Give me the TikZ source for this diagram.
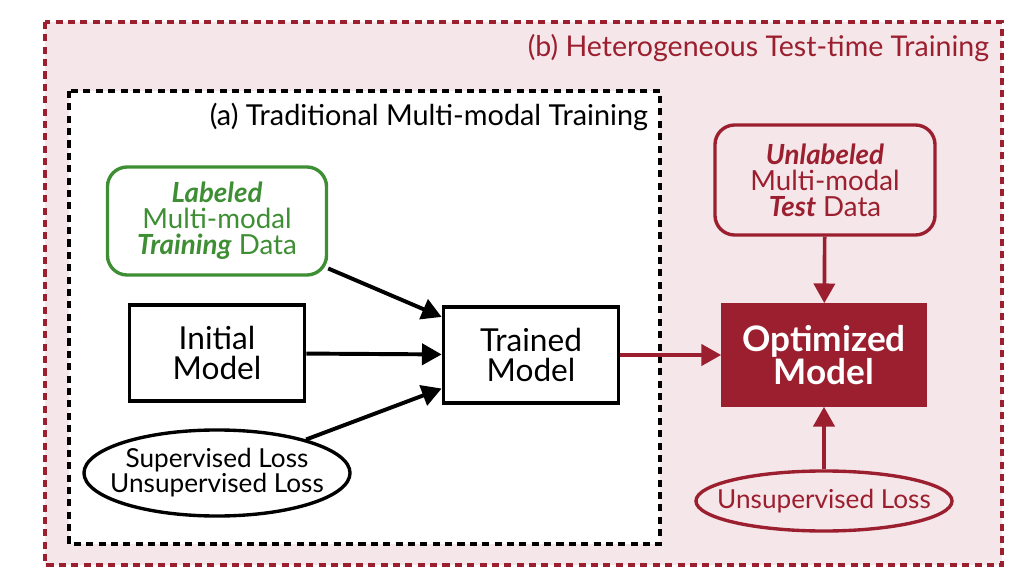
\documentclass[tikz,border=0pt]{standalone}
\usepackage{fontspec}
\setmainfont{Lato}
\usetikzlibrary{shapes.geometric, arrows.meta, positioning, calc}
\definecolor{ttred}{HTML}{9B1F2E}
\definecolor{ttpink}{HTML}{F5E6E9}
\definecolor{ttgreen}{HTML}{3E8E34}
\tikzstyle{frame} = [line width=2.3pt, dash pattern=on 5pt off 3.8pt]
\tikzstyle{block} = [rectangle, draw=black, line width=2.6pt, fill=white, minimum width=4.375cm, minimum height=2.4cm, align=center, inner sep=0pt, font=\fontsize{22.5}{21.5}\selectfont]
\tikzstyle{databox} = [rectangle, rounded corners=14pt, line width=2.4pt, minimum width=5.5cm, minimum height=2.75cm, align=center, inner sep=0pt, font=\fontsize{19.7}{18.6}\selectfont]
\tikzstyle{loss} = [ellipse, line width=2.4pt, inner xsep=-2cm, inner ysep=-1cm, align=center, font=\fontsize{18.6}{16.6}\selectfont]
\tikzstyle{arrow} = [line width=2.8pt, -{Triangle[length=14pt, width=15pt]}]

\begin{document}
\begin{tikzpicture}[x=0.025cm, y=-0.025cm]
  \useasboundingbox (0,0) rectangle (1028,578);
  % outer and inner frames
  \draw[frame, draw=ttred, fill=ttpink] (45,22) rectangle (1002,565);
  \node[anchor=east, text=ttred, font=\fontsize{20.3}{22}\selectfont] (htt) at (994,48) {(b) Heterogeneous Test-time Training};
  \draw[frame, draw=black, fill=white] (69,91) rectangle (660,544);
  \node[anchor=east, font=\fontsize{20.5}{22}\selectfont] (tmt) at (653,117) {(a) Traditional Multi-modal Training};

  % traditional training
  \node[databox, draw=ttgreen, text=ttgreen, fill=white, minimum width=5.475cm, minimum height=2.7cm] (train) at (217,221) {\textbf{\textit{Labeled}}\\Multi-modal\\\textbf{\textit{Training}} Data};
  \node[block] (init) at (217,353) {Initial\\Model};
  \node[block] (trained) at (531,355) {Trained\\Model};
  \node[loss, draw=black, fill=white, minimum width=6.65cm, minimum height=2.15cm] (sup) at (217,473) {Supervised Loss\\Unsupervised Loss};

  % test-time training
  \node[databox, draw=ttred, text=ttred] (test) at (825,180) {\textbf{\textit{Unlabeled}}\\Multi-modal\\\textbf{\textit{Test}} Data};
  \node[block, draw=ttred, fill=ttred, text=white, minimum width=5.05cm, minimum height=2.5cm, font=\fontsize{25}{21.5}\selectfont\bfseries] (opt) at (824,355) {Optimized\\Model};
  \node[loss, draw=ttred, text=ttred, minimum width=6.4cm, minimum height=1.5cm] (unsup) at (824,501) {Unsupervised Loss};

  \draw[arrow] (train) -- (trained);
  \draw[arrow] (init) -- (trained);
  \draw[arrow] (sup) -- (trained);
  \draw[arrow, draw=ttred, line width=2.6pt] (trained) -- (opt);
  \draw[arrow, draw=ttred, line width=2.6pt] (test) -- (opt);
  \draw[arrow, draw=ttred, line width=2.6pt] (unsup) -- (opt);
\end{tikzpicture}
\end{document}
